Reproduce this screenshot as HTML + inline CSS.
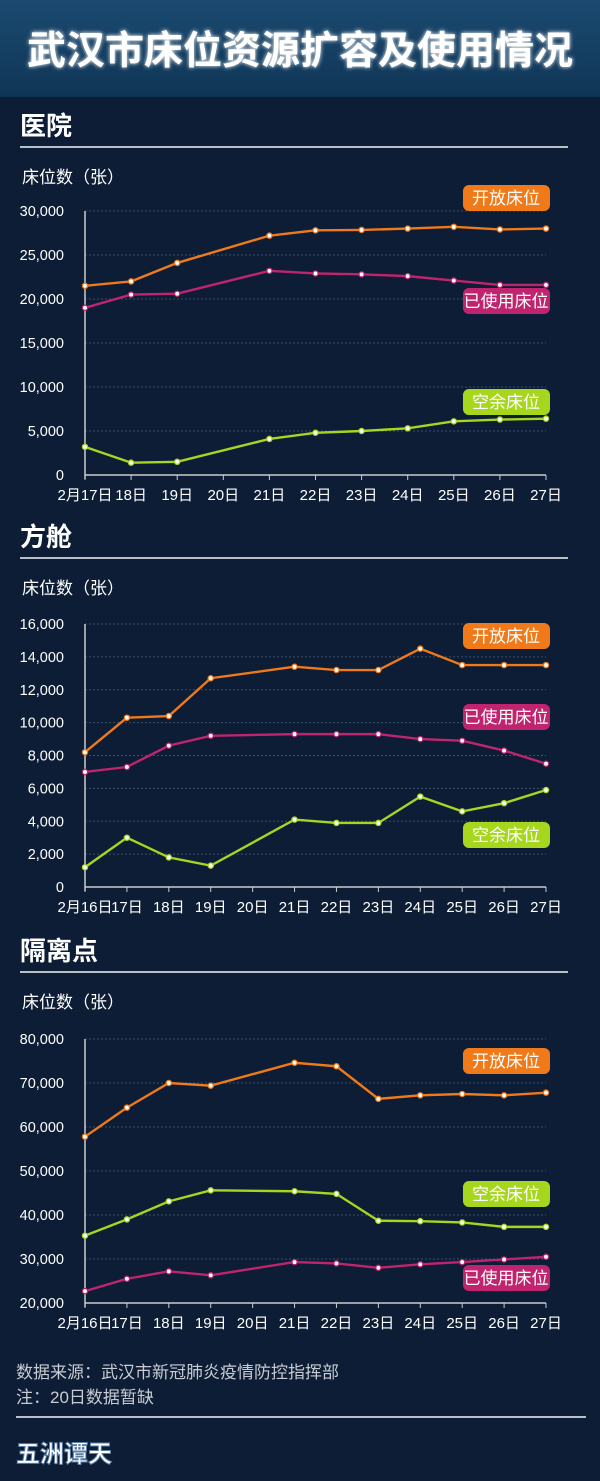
<!DOCTYPE html>
<html><head><meta charset="utf-8"><style>
body{margin:0;width:600px;height:1481px;background:#0c1d35;overflow:hidden;font-family:"Liberation Sans","Noto Sans CJK SC",sans-serif;}
</style></head><body>
<svg id="s" width="600" height="1481" xmlns="http://www.w3.org/2000/svg" style="display:block">
<defs>
<linearGradient id="hg" x1="0" y1="0" x2="0" y2="1"><stop offset="0" stop-color="#1b4a70"/><stop offset="1" stop-color="#0f3556"/></linearGradient>
<filter id="gl"><feGaussianBlur stdDeviation="2" result="b"/><feMerge><feMergeNode in="b"/><feMergeNode in="SourceGraphic"/></feMerge></filter>
</defs>
<rect width="600" height="1481" fill="#0c1d35"/>
<rect width="600" height="97" fill="url(#hg)"/>
<text x="300" y="64" text-anchor="middle" font-size="39" font-weight="bold" fill="#fff" filter="url(#gl)" font-family="Liberation Sans, Noto Sans CJK SC, sans-serif">武汉市床位资源扩容及使用情况</text>
<g id="c"></g>
<text x="16" y="1378" font-size="17" fill="#c8ccd2">数据来源：武汉市新冠肺炎疫情防控指挥部</text>
<text x="16" y="1403" font-size="17" fill="#c8ccd2">注：20日数据暂缺</text>
<rect x="16" y="1416" width="570" height="2" fill="#b8c0c8"/>
<text x="16" y="1462" font-size="24" font-weight="bold" fill="#fff" stroke="#5a7fa8" stroke-width="1">五洲谭天</text>
</svg>
<script>
var g=document.getElementById('c'),h='';
var O='#f07a1a',P='#c0246e',G='#a6d61e';
function chart(o){
 h+='<text x="20" y="'+(o.top+13)+'" font-size="26" font-weight="bold" fill="#fff">'+o.title+'</text>';
 h+='<rect x="20" y="'+(o.top+24)+'" width="548" height="2" fill="#b8c0c8"/>';
 h+='<text x="22" y="'+(o.top+61)+'" font-size="17" fill="#fff">床位数（张）</text>';
 var x0=85,x1=546,n=o.days.length,dx=(x1-x0)/(n-1);
 function Y(v){return o.y0+(o.y1-o.y0)*(v-o.min)/(o.max-o.min);}
 for(var i=0;i<o.ticks.length;i++){var v=o.ticks[i],y=Y(v);
  if(i>0)h+='<line x1="85" x2="546" y1="'+y+'" y2="'+y+'" stroke="#3a506a" stroke-dasharray="2,2"/>';
  h+='<text x="64" y="'+(y+5)+'" text-anchor="end" font-size="14.5" fill="#fff">'+v.toLocaleString('en-US')+'</text>';}
 h+='<line x1="85" x2="85" y1="'+o.y1+'" y2="'+(o.y0+4)+'" stroke="#ccc" stroke-width="1.5"/>';
 h+='<line x1="85" x2="546" y1="'+o.y0+'" y2="'+o.y0+'" stroke="#ccc" stroke-width="1.5"/>';
 for(var i=0;i<n;i++){var x=x0+i*dx;h+='<line x1="'+x+'" x2="'+x+'" y1="'+o.y0+'" y2="'+(o.y0+5)+'" stroke="#ccc"/>';
  h+='<text x="'+x+'" y="'+(o.y0+25)+'" text-anchor="middle" font-size="15" fill="#fff">'+o.days[i]+'</text>';}
 o.series.forEach(function(s){var pts=[],dots='';
  s.d.forEach(function(v,i){if(v==null)return;var x=x0+i*dx,y=Y(v);pts.push(x+','+y);
   dots+='<circle cx="'+x+'" cy="'+y+'" r="2.6" fill="#fff" stroke="'+s.c+'" stroke-width="1.3"/>';});
  h+='<polyline points="'+pts.join(' ')+'" fill="none" stroke="'+s.c+'" stroke-width="2.4"/>'+dots;
  h+='<rect x="463" y="'+s.ly+'" width="87" height="26" rx="6" fill="'+s.c+'"/><text x="506" y="'+(s.ly+19)+'" text-anchor="middle" font-size="17" fill="#fff">'+s.n+'</text>';});
}
var d1=['2月17日','18日','19日','20日','21日','22日','23日','24日','25日','26日','27日'];
var d2=['2月16日','17日','18日','19日','20日','21日','22日','23日','24日','25日','26日','27日'];
chart({top:122,title:'医院',y0:475,y1:211,min:0,max:30000,ticks:[0,5000,10000,15000,20000,25000,30000],days:d1,series:[
 {c:O,n:'开放床位',ly:185,d:[21500,22000,24100,null,27200,27800,27850,28000,28200,27900,28000]},
 {c:P,n:'已使用床位',ly:288,d:[19000,20500,20600,null,23200,22900,22800,22600,22100,21600,21600]},
 {c:G,n:'空余床位',ly:389,d:[3200,1400,1500,null,4100,4800,5000,5300,6100,6300,6400]}]});
chart({top:533,title:'方舱',y0:887,y1:624,min:0,max:16000,ticks:[0,2000,4000,6000,8000,10000,12000,14000,16000],days:d2,series:[
 {c:O,n:'开放床位',ly:623,d:[8200,10300,10400,12700,null,13400,13200,13200,14500,13500,13500,13500]},
 {c:P,n:'已使用床位',ly:704,d:[7000,7300,8600,9200,null,9300,9300,9300,9000,8900,8300,7500]},
 {c:G,n:'空余床位',ly:822,d:[1200,3000,1800,1300,null,4100,3900,3900,5500,4600,5100,5900]}]});
chart({top:947,title:'隔离点',y0:1303,y1:1039,min:20000,max:80000,ticks:[20000,30000,40000,50000,60000,70000,80000],days:d2,series:[
 {c:O,n:'开放床位',ly:1048,d:[57800,64400,70000,69400,null,74600,73800,66400,67200,67500,67200,67800]},
 {c:G,n:'空余床位',ly:1181,d:[35300,39000,43100,45600,null,45400,44800,38700,38600,38300,37300,37300]},
 {c:P,n:'已使用床位',ly:1265,d:[22700,25500,27200,26300,null,29300,29000,28000,28800,29300,29900,30500]}]});
g.innerHTML=h;
</script>
</body></html>
